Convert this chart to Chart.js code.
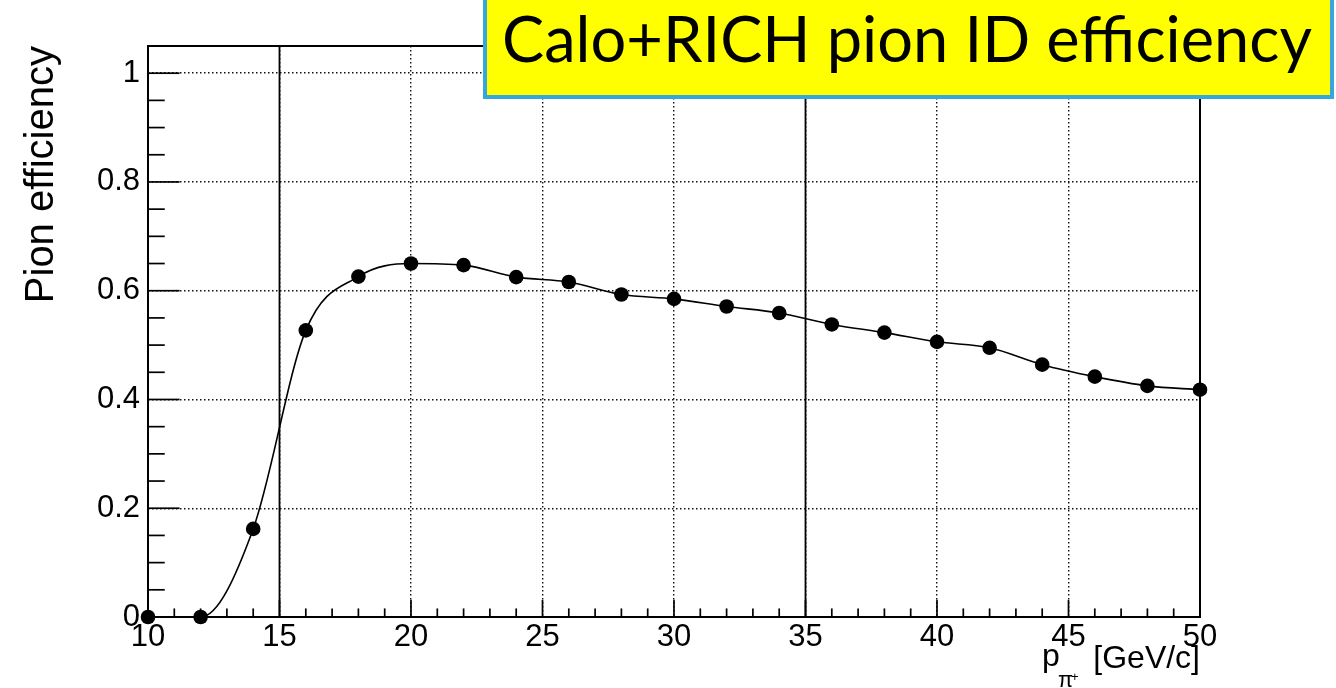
<!DOCTYPE html>
<html>
<head>
<meta charset="utf-8">
<title>Calo+RICH pion ID efficiency</title>
<script src="https://cdn.jsdelivr.net/npm/chart.js@4.4.1/dist/chart.umd.min.js"></script>
<style>
  html, body { margin: 0; padding: 0; background: #ffffff; }
  #wrap { position: relative; width: 1336px; height: 688px; overflow: hidden; }
  #plot { position: absolute; left: 0; top: 0; }
  #banner {
    position: absolute; left: 483px; top: -4px;
    width: 843px; height: 95px;
    background: #ffff00; border: 4px solid #35a7dc;
    overflow: hidden;
  }
  #bannerText {
    position: absolute; left: 15px; top: 0;
    font-family: "Lato", "Open Sans", sans-serif; font-size: 64px;
    line-height: 76.8px; white-space: nowrap; color: #000;
    transform-origin: 0 0;
  }
</style>
</head>
<body>
<div id="wrap">
  <canvas id="plot" width="1336" height="688"></canvas>
  <div id="banner"><span id="bannerText">Calo+RICH pion ID efficiency</span></div>
</div>
<script>
// Pion momentum (GeV/c) and measured identification efficiency
const momentum   = [10, 12, 14, 16, 18, 20, 22, 24, 26, 28, 30, 32, 34, 36, 38, 40, 42, 44, 46, 48, 50];
const efficiency = [0.000, 0.000, 0.162, 0.527, 0.626, 0.650, 0.647, 0.625, 0.616, 0.593, 0.585,
                    0.571, 0.559, 0.538, 0.523, 0.506, 0.495, 0.464, 0.442, 0.425, 0.418];

// Axis ticks and labels
const xTicks      = [10, 15, 20, 25, 30, 35, 40, 45, 50];
const xTickLabels = ['10', '15', '20', '25', '30', '35', '40', '45', '50'];
const yTicks      = [0, 0.2, 0.4, 0.6, 0.8, 1];
const yTickLabels = ['0', '0.2', '0.4', '0.6', '0.8', '1'];
const xRange = [10, 50];
const yRange = [0, 1.05];
const xMinorStep = 1;
const yMinorStep = 0.05;

// Solid vertical marker lines
const cutLines = [15, 35];

const FONT = '"Liberation Sans", Arial, Helvetica, sans-serif';

// Banner text: stretch to the banner width
(function fitBanner() {
  const span = document.getElementById('bannerText');
  const m = document.createElement('canvas').getContext('2d');
  m.font = '64px "Lato", "Open Sans", sans-serif';
  const w = m.measureText(span.textContent).width;
  span.style.transform = 'scaleX(' + (810 / w) + ')';
})();

// Frame, inward ticks, marker lines and x-axis title in ROOT style
const rootFrame = {
  id: 'rootFrame',
  beforeDatasetsDraw(chart) {
    const { ctx, chartArea: a, scales: { x, y } } = chart;
    const seg = (x1, y1, x2, y2) => { ctx.beginPath(); ctx.moveTo(x1, y1); ctx.lineTo(x2, y2); ctx.stroke(); };
    ctx.save();
    ctx.strokeStyle = '#000';

    ctx.lineWidth = 1.8;
    cutLines.forEach(v => {
      const px = x.getPixelForValue(v);
      seg(px, a.top, px, a.bottom);
    });

    const yMajorLen = 0.03 * (a.right - a.left);
    const xMajorLen = 0.03 * (a.bottom - a.top);
    ctx.lineWidth = 1.7;
    // y-axis ticks
    for (let i = 0; yRange[0] + i * yMinorStep <= 1.0 + 1e-9; i++) {
      const v = yRange[0] + i * yMinorStep;
      const py = y.getPixelForValue(v);
      const major = yTicks.some(t => Math.abs(t - v) < 1e-9);
      seg(a.left, py, a.left + (major ? yMajorLen : yMajorLen * 0.53), py);
    }
    // x-axis ticks
    for (let v = xRange[0]; v <= xRange[1] + 1e-9; v += xMinorStep) {
      const px = x.getPixelForValue(v);
      const major = xTicks.includes(v);
      seg(px, a.bottom, px, a.bottom - (major ? xMajorLen : xMajorLen * 0.5));
    }

    ctx.lineWidth = 2;
    ctx.strokeRect(a.left, a.top, a.right - a.left, a.bottom - a.top);
    ctx.restore();
  },
  afterDraw(chart) {
    const { ctx, chartArea: a } = chart;
    ctx.save();
    ctx.fillStyle = '#000';
    ctx.textBaseline = 'alphabetic';
    // "[GeV/c]" right-aligned to the axis end
    ctx.font = '32px ' + FONT;
    ctx.textAlign = 'right';
    ctx.fillText('[GeV/c]', a.right, 668);
    ctx.textAlign = 'left';
    ctx.fillText('p', 1042, 666);
    ctx.font = '22px ' + FONT;
    ctx.fillText('\u03C0', 1058, 687);
    ctx.font = '13px ' + FONT;
    ctx.fillText('+', 1071, 681);
    ctx.restore();
  }
};

const ctx = document.getElementById('plot').getContext('2d');
new Chart(ctx, {
  type: 'line',
  data: {
    datasets: [{
      data: momentum.map((m, i) => ({ x: m, y: efficiency[i] })),
      borderColor: '#000',
      borderWidth: 1.6,
      cubicInterpolationMode: 'monotone',
      pointRadius: 7.3,
      pointHoverRadius: 7.3,
      pointBackgroundColor: '#000',
      pointBorderWidth: 0,
      clip: false
    }]
  },
  options: {
    responsive: false,
    animation: false,
    events: [],
    layout: { padding: { top: 46, right: 136, left: 0, bottom: 0 } },
    plugins: { legend: { display: false }, tooltip: { enabled: false } },
    scales: {
      x: {
        type: 'linear',
        min: xRange[0], max: xRange[1],
        afterBuildTicks: s => { s.ticks = xTicks.map(v => ({ value: v })); },
        afterFit: s => { s.height = 71; },
        ticks: {
          autoSkip: false, maxRotation: 0, padding: 2,
          color: '#000', font: { family: FONT, size: 31 },
          callback: (v, i) => xTickLabels[i]
        },
        grid: { color: '#111', lineWidth: 1.4, drawTicks: false },
        border: { display: false, dash: [1.5, 2.5] }
      },
      y: {
        type: 'linear',
        min: yRange[0], max: yRange[1],
        afterBuildTicks: s => { s.ticks = yTicks.map(v => ({ value: v })); },
        afterFit: s => { s.width = 148; },
        ticks: {
          autoSkip: false, padding: 8,
          color: '#000', font: { family: FONT, size: 31 },
          callback: (v, i) => yTickLabels[i]
        },
        grid: { color: '#111', lineWidth: 1.4, drawTicks: false },
        border: { display: false, dash: [1.5, 2.5] },
        title: {
          display: true, text: 'Pion efficiency', align: 'end',
          color: '#000', font: { family: FONT, size: 40 },
          padding: { top: 18, bottom: 0 }
        }
      }
    }
  },
  plugins: [rootFrame]
});
</script>
</body>
</html>
